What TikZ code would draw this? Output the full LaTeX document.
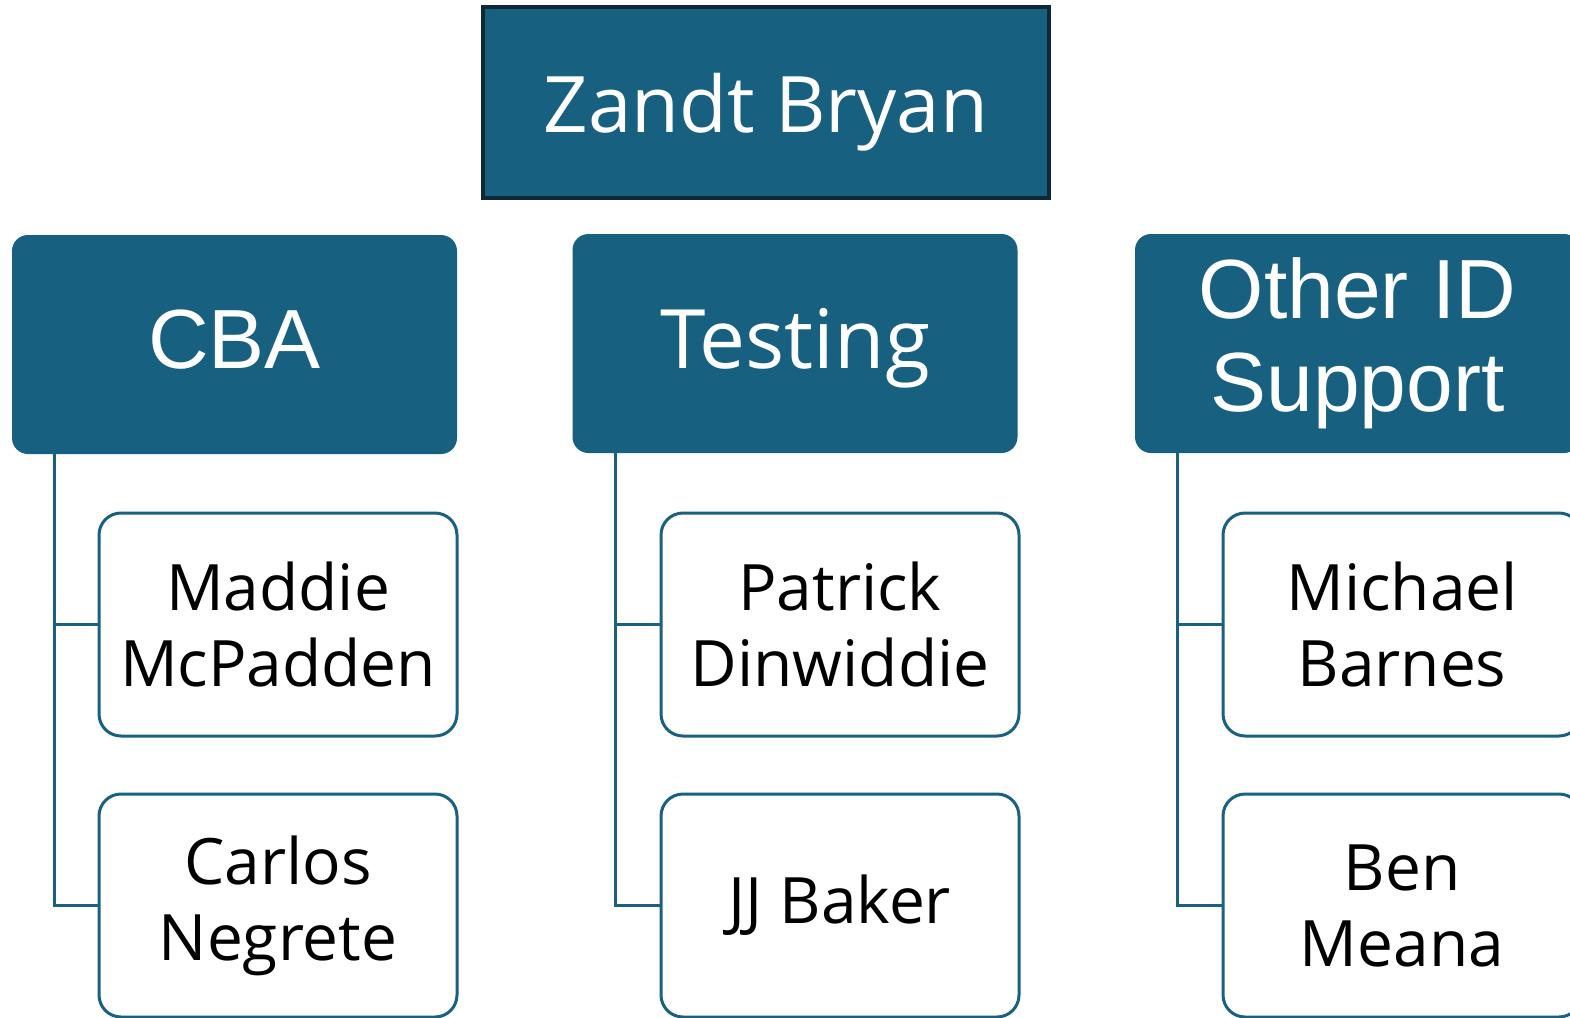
\documentclass[tikz,border=0pt]{standalone}
\usepackage{fontspec}
\setmainfont{Open Sans}
\newfontfamily\arialf{Liberation Sans}
\definecolor{boxblue}{RGB}{24,96,128}
\definecolor{darkedge}{RGB}{14,40,56}
\definecolor{lineblue}{RGB}{26,96,128}
\begin{document}
\begin{tikzpicture}[x=1pt,y=-1pt,
  topbox/.style={draw=darkedge,line width=3.2pt,fill=boxblue,text=white,minimum width=566pt,minimum height=191pt,inner sep=0pt,text depth=0pt,font=\fontsize{78}{90}\selectfont},
  headbox/.style={fill=boxblue,rounded corners=16pt,text=white,minimum width=445pt,minimum height=219pt,inner sep=0pt,align=center},
  personbox/.style={draw=lineblue,line width=3pt,fill=white,rounded corners=22pt,minimum width=358pt,minimum height=223pt,inner sep=0pt,align=center,font=\fontsize{64}{76}\selectfont},
  conn/.style={draw=lineblue,line width=3pt}]
\useasboundingbox (0,0) rectangle (1570,1017);
\clip (0,0) rectangle (1570,1017);
\fill[white] (0,0) rectangle (1570,1017);
\node[topbox] (top) at (766,102.5) {Zandt Bryan};
\node[headbox] (cba) at (234.5,344.5) {};
\node[font=\arialf\fontsize{84}{93}\selectfont,text=white] (cbat) at ([yshift=5pt]cba.center) {CBA};
\node[headbox] (test) at (795,343.5) {};
\node[text depth=0pt,font=\fontsize{82}{93}\selectfont,text=white] (testt) at ([yshift=5pt]test.center) {Testing};
\node[headbox,font=\arialf\fontsize{84}{93}\selectfont] (oth) at (1357.5,343.5) {Other ID\\Support};
\node[personbox] (p1) at (278,624.5) {Maddie\\McPadden};
\node[personbox] (p2) at (278,905.5) {Carlos\\Negrete};
\node[personbox] (p3) at (840,624.5) {Patrick\\Dinwiddie};
\node[personbox] (p4) at (840,905.5) {JJ Baker};
\node[personbox] (p5) at (1402,624.5) {Michael\\Barnes};
\node[personbox] (p6) at (1402,905.5) {Ben\\Meana};
\coordinate (c1) at (54,454);
\coordinate (c2) at (615,453);
\coordinate (c3) at (1177,453);
\draw[conn] (c1) |- (p1.west);
\draw[conn] (c1) |- (p2.west);
\draw[conn] (c2) |- (p3.west);
\draw[conn] (c2) |- (p4.west);
\draw[conn] (c3) |- (p5.west);
\draw[conn] (c3) |- (p6.west);
\end{tikzpicture}
\end{document}
